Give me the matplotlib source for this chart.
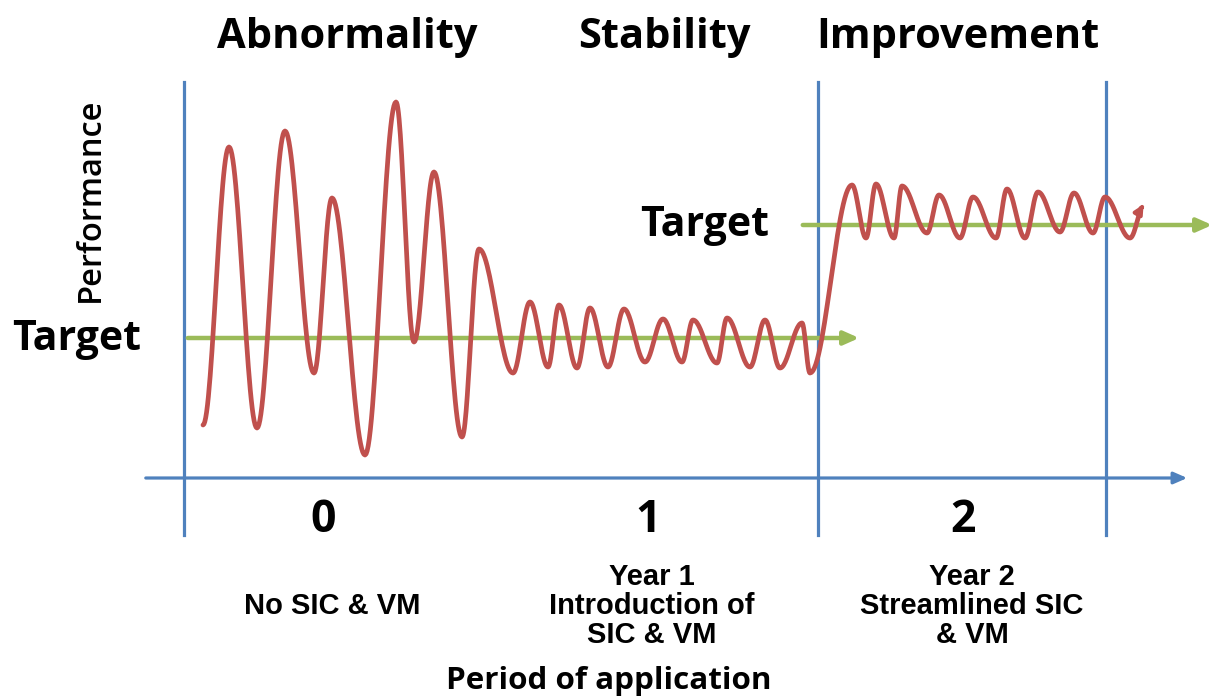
import matplotlib.pyplot as plt
import numpy as np

# extrema of the performance curve (x = time, y = screen-down performance)
wave_x = [203, 229, 257, 285, 314, 332, 365, 396, 414, 434, 462, 479, 513,
          530, 548, 559, 577, 590, 608, 624, 645, 663, 682, 693, 717, 727, 750,
          765, 780, 802, 810,
          852, 866, 876, 894, 902, 927, 939, 960, 973, 996, 1007, 1025, 1038,
          1060, 1074, 1093, 1105, 1130, 1145]
wave_y = [425, 147, 428, 131, 373, 198, 455, 102, 342, 172, 437, 249, 373,
          302, 367, 305, 368, 308, 367, 309, 362, 319, 362, 320, 363, 318, 367,
          320, 368, 323, 373,
          185, 238, 184, 238, 186, 233, 195, 238, 197, 238, 189, 238, 192,
          232, 193, 233, 197, 238, 202]

targets_y = [338, 225]
targets_x0 = [185, 800]
targets_x1 = [862, 1215]
dividers = [184, 818, 1106]
axis_y = 478

phases = ["Abnormality", "Stability", "Improvement"]
phase_x = [347, 664, 958]
periods = ["0", "1", "2"]
period_x = [323, 648, 963]
period_notes = ["No SIC & VM", "Year 1\nIntroduction of\nSIC & VM",
                "Year 2\nStreamlined SIC\n& VM"]
note_x = [332, 652, 972]

blue = "#4F81BD"
red = "#C0504D"
green = "#9BBB59"

fig = plt.figure(figsize=(12.17, 6.99), dpi=100)
ax = fig.add_axes([0, 0, 1, 1])
ax.set_xlim(0, 1217)
ax.set_ylim(699, 0)
ax.axis("off")

# smooth curve through the extrema (cosine easing between turning points)
xs, ys = [], []
for i in range(len(wave_x) - 1):
    t = np.linspace(0, 1, 30)
    xs.append(wave_x[i] + (wave_x[i + 1] - wave_x[i]) * t)
    ys.append(wave_y[i] + (wave_y[i + 1] - wave_y[i]) * (1 - np.cos(np.pi * t)) / 2)
xs = np.concatenate(xs)
ys = np.concatenate(ys)

# axes lines
for x in dividers:
    ax.plot([x, x], [82, 535], color=blue, lw=2.3, zorder=1)
ax.annotate("", xy=(1190, axis_y), xytext=(143, axis_y),
            arrowprops=dict(arrowstyle="-|>,head_length=0.8,head_width=0.35",
                            color=blue, lw=2.3), zorder=1)

# targets
for y, x0, x1 in zip(targets_y, targets_x0, targets_x1):
    ax.annotate("", xy=(x1, y), xytext=(x0, y),
                arrowprops=dict(arrowstyle="-|>,head_length=0.9,head_width=0.4",
                                color=green, lw=3.2), zorder=2)

ax.plot(xs[:-8], ys[:-8], color=red, lw=3.4, zorder=3, solid_capstyle="round")
ax.annotate("", xy=(xs[-1], ys[-1]), xytext=(xs[-10], ys[-10]),
            arrowprops=dict(arrowstyle="-|>,head_length=0.5,head_width=0.25",
                            color=red, lw=3.0), zorder=3)

font = ["Open Sans", "DejaVu Sans"]
for label, x in zip(phases, phase_x):
    ax.text(x, 38, label, ha="center", va="center", fontsize=30,
            fontweight="bold", family=font)
ax.text(90, 200, "Performance", rotation=90, ha="center", va="center",
        fontsize=23.5, fontweight="semibold", family=font)
ax.text(12, 340, "Target", ha="left", va="center", fontsize=29.5,
        fontweight="bold", family=font)
ax.text(640, 226, "Target", ha="left", va="center", fontsize=29.5,
        fontweight="bold", family=font)
for label, x in zip(periods, period_x):
    ax.text(x, 521, label, ha="center", va="center", fontsize=32,
            fontweight="bold", family=font)
for label, x in zip(period_notes, note_x):
    ax.text(x, 606, label, ha="center", va="center", fontsize=21,
            fontweight="bold", family=["Liberation Sans", "DejaVu Sans"],
            linespacing=1.05)
ax.text(609, 681, "Period of application", ha="center", va="center",
        fontsize=22.6, fontweight="bold", family=font)

fig.savefig("out.png", dpi=100)
